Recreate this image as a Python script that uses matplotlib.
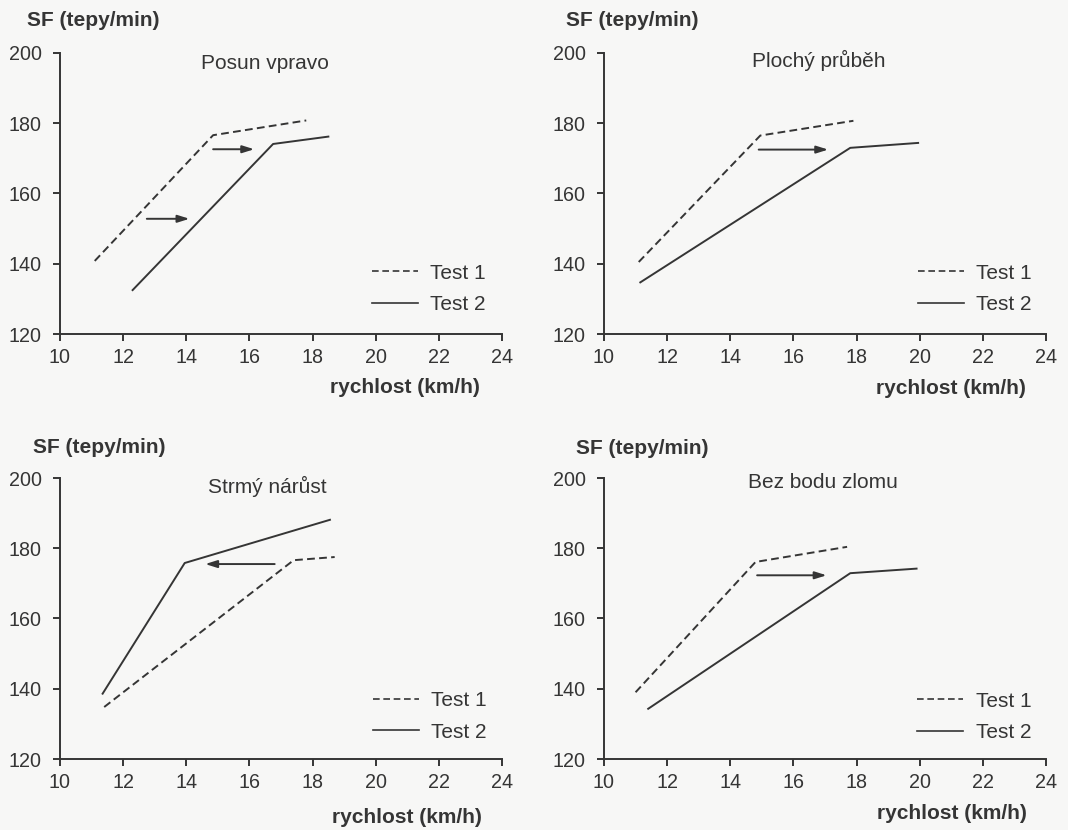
import matplotlib
matplotlib.use("Agg")
import matplotlib.pyplot as plt
from matplotlib.lines import Line2D

plt.rcParams['font.family'] = ['Liberation Sans', 'DejaVu Sans']

INK = '#353535'
BG = '#f7f7f6'

titles = ["Posun vpravo", "Plochý průběh", "Strmý nárůst", "Bez bodu zlomu"]
y_label = "SF (tepy/min)"
x_label = "rychlost (km/h)"
legend_labels = ["Test 1", "Test 2"]
x_ticks = [10, 12, 14, 16, 18, 20, 22, 24]
y_ticks = [120, 140, 160, 180, 200]

# Test 1 (dashed) and Test 2 (solid) for each panel
test1_x = [[11.1, 14.85, 17.8], [11.1, 14.95, 17.9], [11.4, 17.4, 18.7], [11.0, 14.8, 17.7]]
test1_y = [[140.8, 176.6, 180.8], [140.5, 176.5, 180.7], [134.8, 176.6, 177.5], [139.0, 176.1, 180.4]]
test2_x = [[12.3, 16.75, 18.5], [11.15, 17.8, 19.95], [11.35, 13.95, 18.55], [11.4, 17.8, 19.9]]
test2_y = [[132.5, 174.1, 176.2], [134.7, 173.0, 174.4], [138.6, 175.8, 188.1], [134.3, 172.9, 174.2]]

# arrows: (x_start, x_end, y)
arrows = [
    [(12.75, 14.1, 152.8), (14.85, 16.15, 172.6)],
    [(14.9, 17.1, 172.5)],
    [(16.8, 14.6, 175.5)],
    [(14.85, 17.05, 172.3)],
]

W, H = 1068, 830
fig = plt.figure(figsize=(W / 100, H / 100), dpi=100, facecolor=BG)

# axes pixel boxes: left, top(200), right(24), bottom(120)
boxes = [(60, 53, 502, 334), (604, 53, 1046, 334), (60, 478, 502, 759), (604, 478, 1046, 759)]
title_pos = [(0.464, 0.962), (0.486, 0.972), (0.468, 0.970), (0.496, 0.984)]
legend_pos = [(0.706, 0.160), (0.710, 0.160), (0.708, 0.152), (0.709, 0.150)]
ylab_pos = [(27, 20), (566, 20), (33, 447), (576, 448)]
xlab_pos = [(480, 387), (1026, 388), (482, 817), (1027, 813)]

FS_TICK = 14.2
FS = 15
for i in range(4):
    l, t, r, b = boxes[i]
    ax = fig.add_axes([l / W, 1 - b / H, (r - l) / W, (b - t) / H])
    ax.set_facecolor('none')
    ax.set_xlim(10, 24)
    ax.set_ylim(120, 200)
    ax.set_xticks(x_ticks)
    ax.set_yticks(y_ticks)
    for s in ['top', 'right']:
        ax.spines[s].set_visible(False)
    for s in ['left', 'bottom']:
        ax.spines[s].set_color(INK)
        ax.spines[s].set_linewidth(1.4)
    ax.tick_params(axis='both', direction='out', length=5, width=1.4, color=INK,
                   labelcolor=INK, labelsize=FS_TICK)
    ax.tick_params(axis='x', pad=5)
    ax.tick_params(axis='y', pad=8)

    ax.plot(test1_x[i], test1_y[i], color=INK, lw=1.4, ls=(0, (4, 2.2)))
    ax.plot(test2_x[i], test2_y[i], color=INK, lw=1.4, ls='-')

    for (xs, xe, yy) in arrows[i]:
        ax.annotate('', xy=(xe, yy), xytext=(xs, yy),
                    arrowprops=dict(arrowstyle='-|>,head_length=0.7,head_width=0.22',
                                    color=INK, lw=1.4, shrinkA=0, shrinkB=0))

    ax.text(title_pos[i][0], title_pos[i][1], titles[i], transform=ax.transAxes,
            ha='center', va='center', fontsize=FS, color=INK)

    handles = [Line2D([], [], color=INK, lw=1.2, ls=(0, (4, 2.2))),
               Line2D([], [], color=INK, lw=1.2, ls='-')]
    ax.legend(handles, legend_labels, loc='center left', bbox_to_anchor=legend_pos[i],
              frameon=False, fontsize=FS, handlelength=2.2, handletextpad=0.6,
              labelspacing=0.6, borderpad=0, borderaxespad=0, labelcolor=INK)

    fig.text(ylab_pos[i][0] / W, 1 - ylab_pos[i][1] / H, y_label, ha='left', va='center',
             fontsize=FS, fontweight='bold', color=INK)
    fig.text(xlab_pos[i][0] / W, 1 - xlab_pos[i][1] / H, x_label, ha='right', va='center',
             fontsize=FS, fontweight='bold', color=INK)

fig.savefig('out.png', dpi=100, facecolor=BG)
